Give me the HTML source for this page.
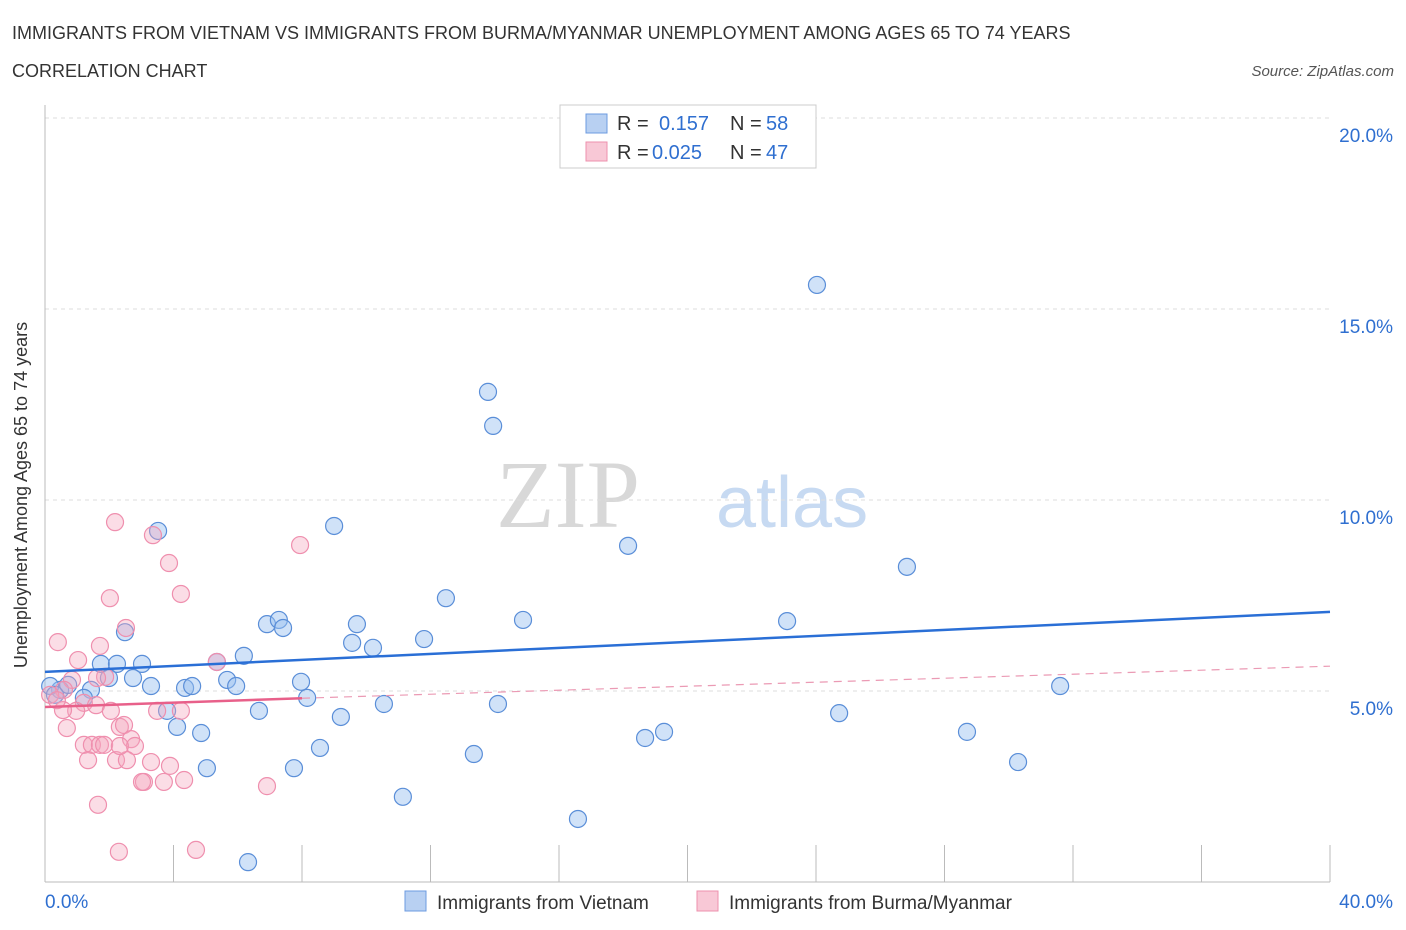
<!DOCTYPE html>
<html><head><meta charset="utf-8"><style>
body{margin:0;background:#fff;font-family:"Liberation Sans",sans-serif;}
svg{display:block}
</style></head><body>
<svg width="1406" height="930" xmlns="http://www.w3.org/2000/svg">
<text x="12" y="39" font-size="18" fill="#333">IMMIGRANTS FROM VIETNAM VS IMMIGRANTS FROM BURMA/MYANMAR UNEMPLOYMENT AMONG AGES 65 TO 74 YEARS</text>
<text x="12" y="77" font-size="18" fill="#333">CORRELATION CHART</text>
<text x="1394" y="76" font-size="15" fill="#555" font-style="italic" text-anchor="end">Source: ZipAtlas.com</text>
<text x="640" y="527" font-size="96" fill="#d8d8d8" text-anchor="end" font-family="Liberation Serif,serif">ZIP</text>
<text x="716" y="527" font-size="72" fill="#c7daf2">atlas</text>
<g id="grid"></g>
<g id="axes"></g>
<g id="marks"></g>
<text x="27" y="495" font-size="18" fill="#333" text-anchor="middle" transform="rotate(-90 27 495)">Unemployment Among Ages 65 to 74 years</text>
<g>
<rect x="560" y="105" width="256" height="63" fill="#fff" stroke="#ccc"/>
<rect x="586" y="114" width="21" height="19" fill="#b8d0f2" stroke="#6d9be0"/>
<text x="617" y="130" font-size="20" fill="#333">R = </text><text x="659" y="130" font-size="20" fill="#2f6fd0">0.157</text>
<text x="730" y="130" font-size="20" fill="#333">N = </text><text x="766" y="130" font-size="20" fill="#2f6fd0">58</text>
<rect x="586" y="142" width="21" height="19" fill="#f8c8d6" stroke="#ee90ad"/>
<text x="617" y="159" font-size="20" fill="#333">R = </text><text x="652" y="159" font-size="20" fill="#2f6fd0">0.025</text>
<text x="730" y="159" font-size="20" fill="#333">N = </text><text x="766" y="159" font-size="20" fill="#2f6fd0">47</text>
</g>
<g>
<rect x="405" y="891" width="21" height="20" fill="#b8d0f2" stroke="#6d9be0"/>
<text x="437" y="909" font-size="19" fill="#333">Immigrants from Vietnam</text>
<rect x="697" y="891" width="21" height="20" fill="#f8c8d6" stroke="#ee90ad"/>
<text x="729" y="909" font-size="19" fill="#333">Immigrants from Burma/Myanmar</text>
</g>
</svg>
<script>
const xTicks=[0,4,8,12,16,20,24,28,32,36,40];
const yTicks=[5,10,15,20];
const yTickLabels=["5.0%","10.0%","15.0%","20.0%"];
const xEndLabels=["0.0%","40.0%"];
const vietX=[24.03,13.79,13.95,3.52,9.00,18.15,26.83,12.48,14.88,23.10,6.91,7.28,7.41,9.71,9.56,10.21,11.80,2.49,1.74,2.24,3.02,6.19,5.35,1.99,2.74,3.30,4.36,4.58,5.67,5.95,7.97,8.16,1.43,1.21,0.47,0.16,31.60,3.80,6.66,10.55,14.10,9.21,24.72,4.11,4.86,18.68,19.27,28.70,8.56,13.35,5.04,7.75,30.29,11.14,16.59,6.32,0.72,0.31];
const vietY=[15.63,12.83,11.94,9.19,9.32,8.80,8.25,7.43,6.86,6.83,6.75,6.86,6.65,6.75,6.26,6.13,6.36,6.54,5.71,5.71,5.71,5.92,5.76,5.34,5.34,5.13,5.08,5.13,5.29,5.13,5.24,4.82,5.03,4.82,5.03,5.13,5.13,4.48,4.48,4.66,4.66,4.32,4.42,4.06,3.90,3.77,3.93,3.93,3.51,3.35,2.98,2.98,3.14,2.23,1.65,0.52,5.16,4.90];
const burmaX=[2.18,3.36,3.86,7.94,2.02,4.23,2.52,0.40,1.71,1.03,5.35,1.87,1.62,0.84,0.59,0.16,1.21,1.59,2.05,0.97,3.49,0.56,4.23,0.68,2.33,2.46,2.68,2.80,1.21,1.46,1.71,1.84,1.34,2.21,2.55,3.30,3.89,3.08,3.02,3.70,4.33,6.91,1.65,2.30,4.70,2.33,0.37];
const burmaY=[9.42,9.08,8.35,8.82,7.43,7.54,6.65,6.28,6.18,5.81,5.76,5.37,5.34,5.29,5.03,4.90,4.69,4.63,4.48,4.48,4.48,4.50,4.48,4.03,4.06,4.11,3.74,3.56,3.59,3.59,3.59,3.59,3.19,3.19,3.19,3.14,3.04,2.62,2.62,2.62,2.67,2.51,2.02,0.79,0.84,3.56,4.76];
const vietTrend=[5.50,7.07];
const burmaTrend=[4.58,4.81,5.65];
const NS="http://www.w3.org/2000/svg";
const X=v=>45+v/40*1285;
const Y=v=>882-v*38.2;
function mk(tag,attrs,parent){const e=document.createElementNS(NS,tag);for(const k in attrs)e.setAttribute(k,attrs[k]);document.getElementById(parent).appendChild(e);return e;}
yTicks.forEach((t,i)=>{
 const g=mk('line',{x1:45,x2:1330,y1:Y(t),y2:Y(t),stroke:'#ddd','stroke-dasharray':'4,4'},'grid');
 
 
 const l=mk('text',{x:1393,y:Y(t)+24,'font-size':19,fill:'#2f6fd0','text-anchor':'end'},'axes');
 l.textContent=yTickLabels[i];
 
 
});
const ya=mk('line',{x1:45,x2:45,y1:105,y2:882,stroke:'#bbb'},'axes');


const xa=mk('line',{x1:45,x2:1330,y1:882,y2:882,stroke:'#bbb'},'axes');


xTicks.forEach(t=>{
 const l=mk('line',{x1:X(t),x2:X(t),y1:845,y2:882,stroke:'#bbb'},'axes');
 
 
});
[[0,'start',45],[40,'end',1393]].forEach((d,i)=>{
 const l=mk('text',{x:d[2],y:908,'font-size':19,fill:'#2f6fd0','text-anchor':d[1]},'axes');
 l.textContent=xEndLabels[i];
 
 
});
vietX.forEach((x,i)=>{
 const c=mk('circle',{cx:X(x),cy:Y(vietY[i]),r:8.5,fill:'rgba(150,190,240,0.45)',stroke:'#5a8ed8','stroke-width':1.2},'marks');
 
 
});
burmaX.forEach((x,i)=>{
 const c=mk('circle',{cx:X(x),cy:Y(burmaY[i]),r:8.5,fill:'rgba(245,165,190,0.38)',stroke:'#ef8fae','stroke-width':1.2},'marks');
 
 
});
const t1=mk('line',{x1:X(0),y1:Y(vietTrend[0]),x2:X(40),y2:Y(vietTrend[1]),stroke:'#2a6fd6','stroke-width':2.5},'marks');


const t2=mk('line',{x1:X(0),y1:Y(burmaTrend[0]),x2:X(8),y2:Y(burmaTrend[1]),stroke:'#e8608a','stroke-width':2.5},'marks');


const t3=mk('line',{x1:X(8),y1:Y(burmaTrend[1]),x2:X(40),y2:Y(burmaTrend[2]),stroke:'#eb9ab4','stroke-width':1.2,'stroke-dasharray':'8,6'},'marks');


</script>
</body></html>
